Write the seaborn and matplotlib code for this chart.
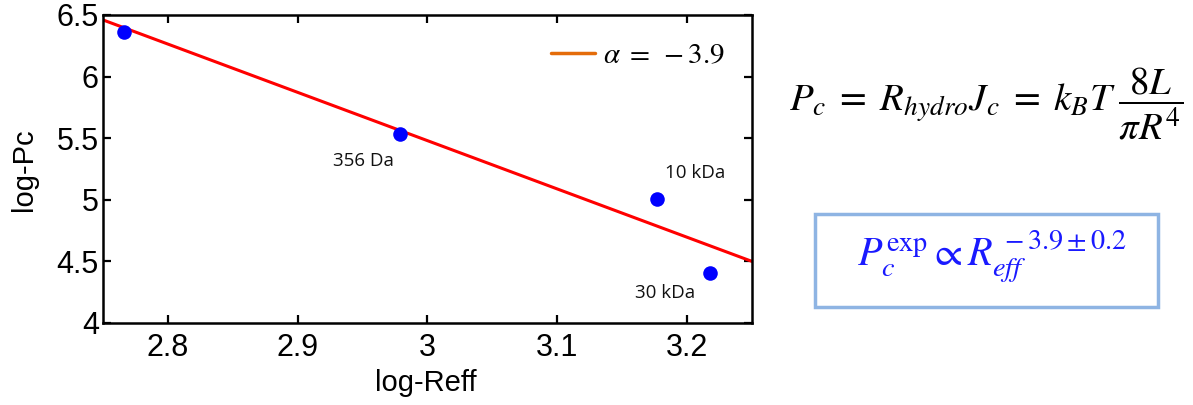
import numpy as np
import pandas as pd
import matplotlib
matplotlib.use("Agg")
import matplotlib.pyplot as plt
import seaborn as sns
from matplotlib.lines import Line2D
from matplotlib.patches import Rectangle

# ---- data ----
log_reff = [2.766, 2.979, 3.177, 3.218]
log_pc = [6.365, 5.535, 5.005, 4.405]
fit_x = [2.75, 3.25]
fit_y = [6.46, 4.50]
point_labels = ["", "356 Da", "10 kDa", "30 kDa"]
label_x = [None, 2.951, 3.206, 3.183]
label_y = [None, 5.315, 5.217, 4.243]
x_ticks = [2.8, 2.9, 3.0, 3.1, 3.2]
x_ticklabels = ["2.8", "2.9", "3", "3.1", "3.2"]
y_ticks = [4.0, 4.5, 5.0, 5.5, 6.0, 6.5]
y_ticklabels = ["4", "4.5", "5", "5.5", "6", "6.5"]
legend_label = r"$\alpha\;=\;-3.9$"

sns.set_theme(style="ticks")
plt.rcParams["font.family"] = ["Liberation Sans", "DejaVu Sans"]
plt.rcParams["mathtext.fontset"] = "stix"
plt.rcParams["text.color"] = "black"
plt.rcParams["axes.labelcolor"] = "black"

fig = plt.figure(figsize=(11.93, 4.05), dpi=100)
ax = fig.add_axes([0.0863, 0.2025, 0.5440, 0.7605])

pts = pd.DataFrame({"x": log_reff, "y": log_pc})
fit = pd.DataFrame({"x": fit_x, "y": fit_y})
sns.lineplot(data=fit, x="x", y="y", ax=ax, color="#ff0000", lw=2.2, zorder=2)
sns.scatterplot(data=pts, x="x", y="y", ax=ax, color="#0000ff", s=110,
                edgecolor="#0000ff", linewidth=0, zorder=3)

for lab, lx, ly in zip(point_labels, label_x, label_y):
    if lab:
        ax.text(lx, ly, lab, ha="center", va="center", fontsize=13.5,
                family=["Open Sans", "DejaVu Sans"], color="#111111")

ax.set_xlim(2.75, 3.25)
ax.set_ylim(4.0, 6.5)
ax.set_xticks(x_ticks)
ax.set_xticklabels(x_ticklabels)
ax.set_yticks(y_ticks)
ax.set_yticklabels(y_ticklabels)
ax.set_xlabel("log-Reff", fontsize=21, color="black")
ax.set_ylabel("log-Pc", fontsize=21, color="black")
ax.xaxis.set_label_coords(0.498, -0.150)
ax.yaxis.set_label_coords(-0.100, 0.497)
ax.tick_params(direction="in", length=6, width=1.6, labelsize=22,
               top=True, right=True, colors="black")
ax.tick_params(axis="x", pad=7)
ax.tick_params(axis="y", pad=3)
for s in ax.spines.values():
    s.set_visible(True)
    s.set_linewidth(1.8)
    s.set_color("black")

handle = Line2D([0], [0], color="#E46C0A", lw=2.5)
ax.legend(handles=[handle], labels=[legend_label], loc="upper right",
          bbox_to_anchor=(0.99, 0.98), frameon=False, fontsize=21,
          handlelength=1.5, handletextpad=0.3, borderaxespad=0.3)

# formulas on the right
fig.text(0.992, 0.745,
         r"$P_c\;=\;R_{hydro}J_c\;=\;k_BT\;\dfrac{8L}{\pi R^4}$",
         ha="right", va="center", fontsize=28, color="black")

box = Rectangle((815 / 1193, 1 - 307 / 405), (1158 - 815) / 1193, (307 - 214) / 405,
                transform=fig.transFigure, fill=False, edgecolor="#8EB4E3", lw=2.5)
fig.add_artist(box)
fig.text(0.831, 1 - 257 / 405,
         r"$P_c^{\mathrm{exp}}\propto R_{\mathit{eff}}^{\,-3.9\pm 0.2}$",
         ha="center", va="center", fontsize=29, color="#1a1aff")

fig.savefig("out.png", dpi=100)
